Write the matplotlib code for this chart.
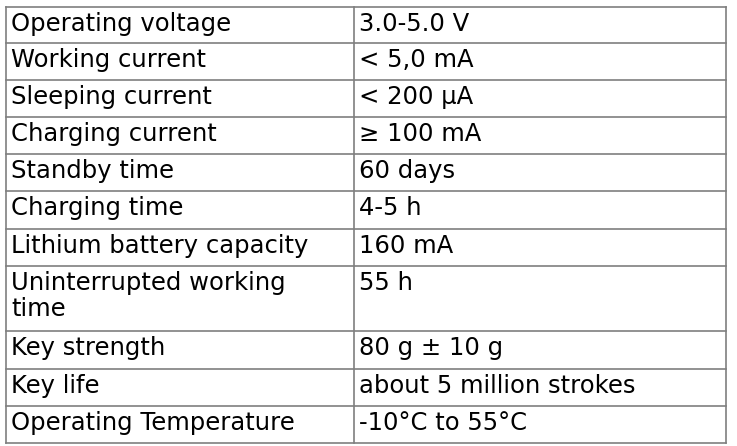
import matplotlib.pyplot as plt

labels = ["Operating voltage", "Working current", "Sleeping current", "Charging current",
          "Standby time", "Charging time", "Lithium battery capacity",
          "Uninterrupted working\ntime", "Key strength", "Key life", "Operating Temperature"]
values = ["3.0-5.0 V", "< 5,0 mA", "< 200 µA", "≥ 100 mA", "60 days", "4-5 h", "160 mA",
          "55 h", "80 g ± 10 g", "about 5 million strokes", "-10°C to 55°C"]
row_lines = [7, 43, 80, 117, 154, 191, 229, 266, 331, 369, 406, 443]

W, H = 737, 446
fig = plt.figure(figsize=(W / 100, H / 100), dpi=100)
ax = fig.add_axes([0, 0, 1, 1])
ax.set_xlim(0, W)
ax.set_ylim(H, 0)
ax.axis("off")

x0, xm, x1 = 6, 354, 726
lc = "#7f7f7f"
for y in row_lines:
    ax.plot([x0, x1], [y, y], color=lc, lw=1.2)
for x in (x0, xm, x1):
    ax.plot([x, x], [row_lines[0], row_lines[-1]], color=lc, lw=1.2)

for i, (lab, val) in enumerate(zip(labels, values)):
    top = row_lines[i]
    ax.text(11, top + 5, lab, fontsize=17.5, va="top", ha="left", color="black", linespacing=1.1)
    ax.text(359, top + 5, val, fontsize=17.5, va="top", ha="left", color="black")

fig.savefig("out.png", dpi=100, facecolor="white")
